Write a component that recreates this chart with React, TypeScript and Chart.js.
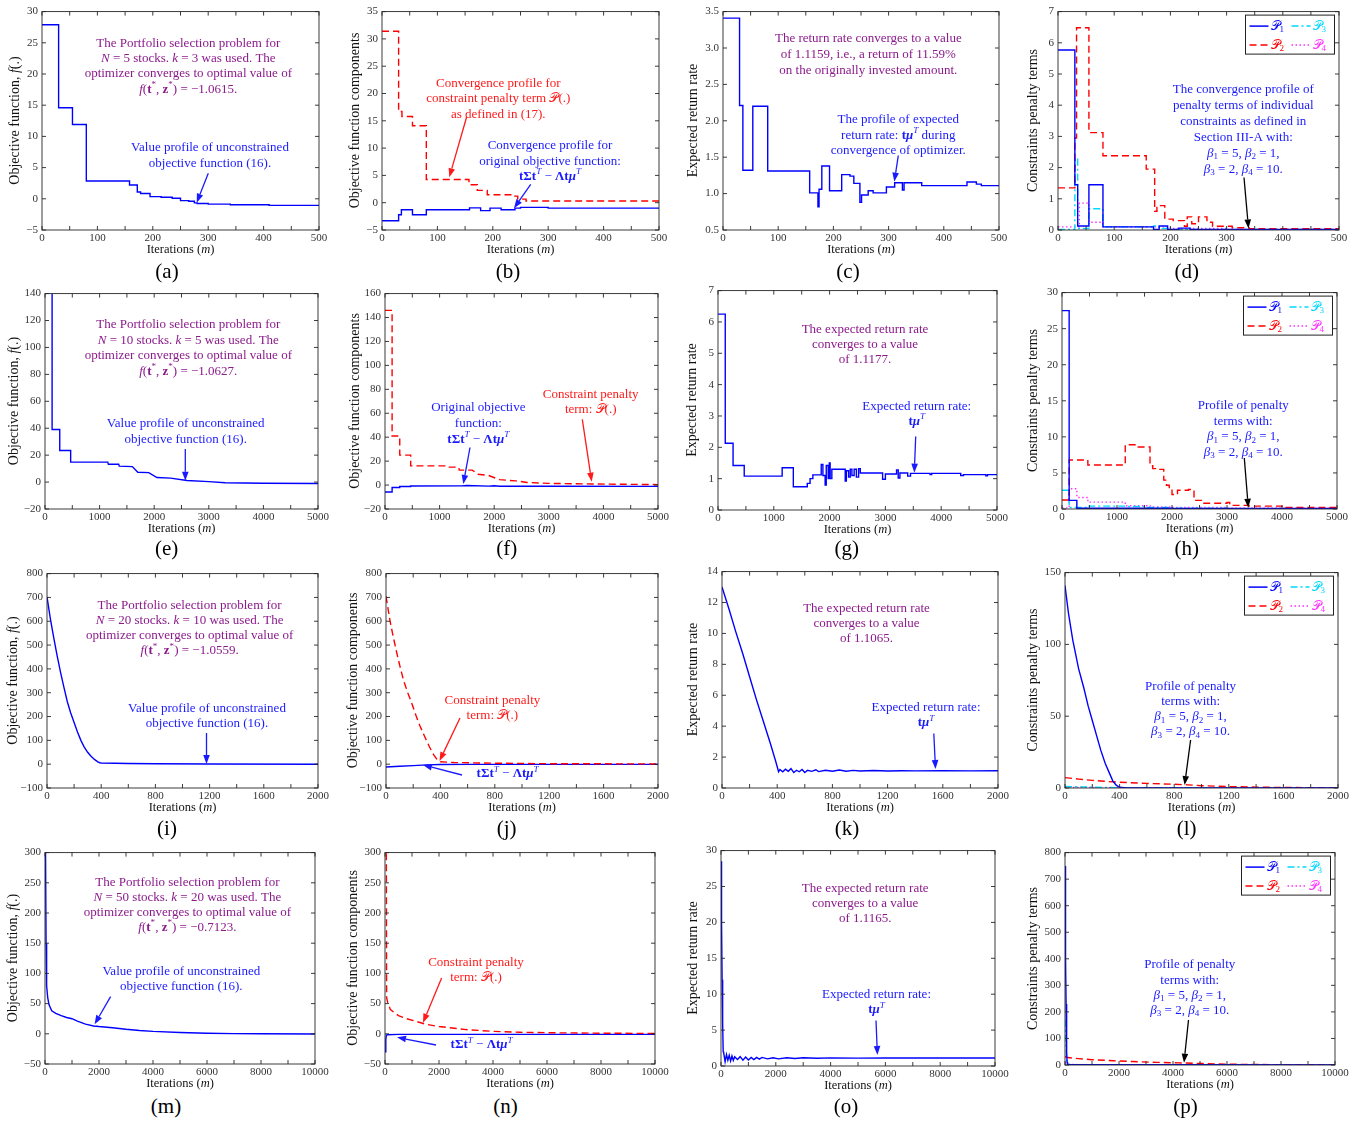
import React, { useEffect, useRef } from "react";
import { Chart, registerables } from "chart.js";

Chart.register(...registerables);

const FONT = '"Liberation Serif", "DejaVu Serif", "Times New Roman", serif';
const Y_W = 50;
const PAD_T = 10;
const X_H = 30;
const ANN_SIZE = 13;
const YT_SIZE = 14;
const XT_SIZE = 12.5;
const TICK_SIZE = 11;

const BLUE = "#0000ff";
const RED = "#ff0000";
const CYAN = "#00d8ff";
const MAGENTA = "#ff30ff";
const PURPLE = "#8b1a8b";
const TXT_BLUE = "#1a1aff";
const TXT_RED = "#ff1a1a";
const BLACK = "#000000";
const SCRIPT_P = "𝒫";

// ---------------- data ----------------
// (a) N = 5
const aIter = [0, 30, 55, 80, 158, 172, 178, 195, 215, 235, 250, 265, 275, 280, 300, 340, 410, 500];
const aObjective = [27.9, 14.6, 11.9, 2.85, 2.2, 1.1, 0.85, 0.35, 0.25, 0.1, -0.3, -0.4, -0.65, -0.75, -0.85, -0.95, -1.05, -1.1];
// (b)
const bPenIter = [0, 30, 36, 55, 80, 157, 172, 190, 237, 245, 260, 500];
const bPenalty = [31.4, 16.7, 15.8, 14.1, 4.25, 3.3, 2.25, 1.45, 1.2, 0.65, 0.3, 0.1];
const bObjIter = [0, 30, 35, 55, 80, 158, 178, 195, 215, 240, 250, 300, 500];
const bObjOrig = [-3.3, -2.2, -1.3, -2.2, -1.3, -0.95, -1.45, -1.0, -1.3, -1.0, -0.85, -1.0, -1.05];
// (c)
const cIter = [0, 30, 36, 54, 81, 157, 172, 174, 179, 193, 215, 230, 237, 248, 251, 263, 272, 296, 311, 325, 328, 360, 442, 459, 468, 500];
const cReturn = [3.41, 2.21, 1.32, 2.2, 1.31, 1.01, 0.82, 1.06, 1.38, 1.04, 1.26, 1.24, 1.14, 0.88, 0.98, 1.04, 1.01, 1.09, 1.15, 1.05, 1.15, 1.11, 1.16, 1.13, 1.11, 1.11];
// (d)
const dP1Iter = [0, 30, 35, 55, 80, 170, 180, 195, 215, 235, 500];
const dP1 = [5.77, 1.45, 0.13, 1.45, 0.1, 0.02, 0.13, 0.02, 0.06, 0.02, 0.02];
const dP2Iter = [0, 30, 33, 55, 80, 157, 172, 176, 190, 205, 225, 230, 238, 250, 265, 275, 310, 340, 500];
const dP2 = [1.35, 2.95, 6.48, 3.12, 2.38, 1.95, 0.6, 0.78, 0.35, 0.3, 0.12, 0.42, 0.2, 0.42, 0.25, 0.12, 0.07, 0.04, 0.02];
const dP3Iter = [0, 30, 35, 55, 80, 170, 180, 200, 500];
const dP3 = [0.02, 2.28, 0.05, 0.68, 0.1, 0.13, 0.05, 0.02, 0.01];
const dP4Iter = [0, 38, 55, 80, 160, 200, 300, 500];
const dP4 = [0.1, 0.86, 0.25, 0.1, 0.1, 0.05, 0.02, 0.01];
// (e) N = 10
const eIter = [0, 130, 130, 270, 270, 470, 470, 1150, 1160, 1350, 1360, 1600, 1700, 1900, 2050, 2300, 2600, 3000, 3300, 4000, 5000];
const eObjective = [150, 150, 39, 39, 23.5, 23.5, 14.8, 14.8, 13.2, 13.2, 11.8, 11.5, 7.3, 7, 3.4, 2.9, 1.2, 0.3, -0.5, -0.9, -1.1];
// (f)
const fPenIter = [0, 130, 130, 270, 270, 470, 470, 1150, 1160, 1350, 1360, 1600, 1700, 1900, 2100, 2400, 2600, 3000, 3800, 5000];
const fPenalty = [146, 146, 41, 41, 25, 25, 16, 16, 15, 15, 12.5, 12.5, 9, 8, 4.5, 3.5, 2.2, 1.4, 0.9, 0.4];
const fObjIter = [0, 130, 130, 270, 270, 470, 470, 1400, 1500, 1900, 2000, 2100, 3000, 5000];
const fObjOrig = [-5.8, -5.8, -2, -2, -1.2, -1.2, -0.8, -0.7, -0.4, -0.9, -0.6, -1, -1, -1.1];
// (g)
const gIter = [0, 130, 270, 470, 1150, 1350, 1600, 1650, 1700, 1850, 1880, 1920, 1940, 1975, 1995, 2010, 2040, 2100, 2280, 2300, 2340, 2370, 2400, 2440, 2480, 2520, 2550, 2950, 3000, 3200, 3230, 3260, 3400, 3450, 3800, 3830, 4350, 4400, 4800, 4830, 5000];
const gReturn = [6.25, 2.13, 1.42, 1.08, 1.35, 0.74, 0.85, 1.0, 1.12, 1.45, 1.1, 0.8, 1.42, 1.0, 1.5, 1.0, 1.3, 1.3, 0.92, 1.25, 1.05, 1.3, 1.1, 1.3, 1.05, 1.32, 1.18, 0.98, 1.15, 1.28, 1.02, 1.18, 1.08, 1.17, 1.13, 1.17, 1.1, 1.13, 1.09, 1.13, 1.13];
// (h)
const hP1Iter = [0, 130, 270, 2000, 5000];
const hP1 = [27.5, 1.2, 0.1, 0.08, 0.02];
const hP2Iter = [0, 130, 470, 1150, 1350, 1600, 1650, 1700, 1850, 1900, 1950, 2000, 2100, 2300, 2400, 2550, 3000, 3050, 3400, 4000, 5000];
const hP2 = [1.25, 6.8, 6.1, 8.9, 8.6, 6.0, 5.6, 5.5, 4.0, 3.3, 2.8, 2.0, 2.6, 2.7, 1.2, 0.8, 0.9, 0.5, 0.4, 0.2, 0.05];
const hP3Iter = [0, 130, 470, 1150, 1500, 2000, 3000, 5000];
const hP3 = [2.6, 0.2, 0.4, 0.35, 0.2, 0.1, 0.05, 0.02];
const hP4Iter = [0, 130, 270, 470, 1150, 1600, 2000, 3000, 5000];
const hP4 = [0.15, 2.8, 1.6, 0.95, 0.45, 0.3, 0.2, 0.1, 0.05];
// (i) N = 20
const iIter = [0, 25, 50, 75, 100, 125, 150, 175, 200, 225, 250, 275, 300, 325, 350, 375, 390, 400, 500, 600, 800, 1200, 2000];
const iObjective = [702, 610, 530, 455, 385, 322, 262, 215, 175, 135, 100, 72, 50, 33, 20, 10, 6, 5, 4, 3, 1.5, 0.5, 0];
// (j)
const jPenIter = [0, 30, 55, 80, 105, 130, 160, 190, 220, 250, 285, 320, 350, 380, 400, 500, 800, 1200, 2000];
const jPenalty = [705, 600, 530, 465, 405, 350, 300, 255, 205, 160, 115, 72, 40, 16, 10, 7, 4, 2, 1];
const jObjIter = [0, 100, 200, 300, 400, 600, 2000];
const jObjOrig = [-12, -9, -6, -3, -1.5, -1, -1];
// (k)
const kIter = [0, 50, 100, 150, 200, 250, 300, 350, 390, 410, 420, 440, 460, 480, 500, 520, 540, 560, 580, 600, 620, 650, 680, 700, 750, 800, 850, 900, 950, 1000, 1100, 1200, 1300, 1400, 1600, 1800, 2000];
const kReturn = [13, 11.6, 10.1, 8.7, 7.2, 5.7, 4.3, 2.9, 1.7, 1.05, 1.2, 1.05, 1.22, 1.08, 1.25, 1.0, 1.15, 1.05, 1.2, 1.0, 1.15, 1.08, 1.18, 1.06, 1.15, 1.08, 1.16, 1.08, 1.14, 1.1, 1.13, 1.1, 1.12, 1.11, 1.12, 1.11, 1.12];
// (l)
const lP1Iter = [0, 25, 57, 100, 137, 170, 200, 230, 263, 295, 327, 350, 375, 400, 450, 2000];
const lP1 = [141, 122, 103, 83, 70, 57, 47, 37, 26, 17, 10, 5, 2, 0.5, 0.1, 0];
const lP2Iter = [0, 100, 200, 300, 400, 600, 800, 900, 1000, 1200, 1400, 1600, 2000];
const lP2 = [7.2, 6.2, 5.3, 4.6, 4.0, 3.2, 2.6, 2.2, 1.6, 1.0, 0.6, 0.35, 0.15];
const lP3Iter = [0, 100, 200, 300, 400, 2000];
const lP3 = [1.0, 0.8, 0.6, 0.4, 0.2, 0];
const lP4Iter = [0, 200, 400, 1000, 2000];
const lP4 = [0.4, 0.3, 0.2, 0.1, 0];
// (m) N = 50
const mIter = [0, 20, 40, 60, 100, 150, 250, 400, 600, 800, 1000, 1200, 1500, 1800, 2000, 2500, 3000, 3500, 4000, 5000, 6000, 7000, 8000, 10000];
const mObjective = [800, 300, 150, 80, 60, 48, 38, 34, 30, 27, 25, 21, 16, 13, 12, 10, 7.5, 5.5, 4, 2.2, 1, 0.3, 0, -0.3];
// (n)
const nPenIter = [0, 45, 60, 100, 200, 500, 800, 1200, 1500, 2000, 3000, 4000, 5000, 6000, 8000, 10000];
const nPenalty = [900, 400, 60, 52, 40, 30, 25, 20, 16, 12, 7, 4, 2.5, 1.8, 1, 0.6];
const nObjIter = [0, 30, 50, 100, 500, 10000];
const nObjOrig = [-30, -10, -2, -1.5, -1, -1];
// (o)
const oIter = [0, 20, 40, 60, 80, 100, 150, 200, 250, 300, 350, 400, 450, 500, 600, 700, 800, 900, 1000, 1100, 1200, 1300, 1400, 1500, 1700, 1900, 2100, 2400, 2700, 3000, 3500, 4000, 5000, 6000, 8000, 10000];
const oReturn = [28.5, 20, 12, 6, 2, 1.8, 0.6, 1.6, 0.8, 1.5, 0.7, 1.4, 0.8, 1.3, 0.9, 1.3, 0.8, 1.25, 0.85, 1.2, 0.9, 1.2, 0.95, 1.2, 1.0, 1.15, 1.0, 1.15, 1.05, 1.15, 1.08, 1.13, 1.1, 1.12, 1.11, 1.12];
// (p)
const pP1Iter = [0, 20, 40, 60, 80, 100, 10000];
const pP1 = [750, 400, 230, 50, 10, 2, 0];
const pP2Iter = [0, 50, 100, 500, 1000, 1800, 2500, 3400, 4200, 5000, 6000, 8000, 10000];
const pP2 = [30, 30, 28, 24, 20, 16, 13, 10, 8, 6, 3, 1, 0.5];
const pP3Iter = [0, 30, 60, 100, 200, 10000];
const pP3 = [170, 100, 20, 5, 1, 0];
const pP4Iter = [0, 50, 100, 1000, 10000];
const pP4 = [10, 5, 2, 1, 0];

const legendLabels = [SCRIPT_P + "_{1}", SCRIPT_P + "_{2}", SCRIPT_P + "_{3}", SCRIPT_P + "_{4}"];

// ---------------- styles / layout ----------------
const STY: any = {
  blue: { color: BLUE, dash: [] },
  red: { color: RED, dash: [7, 4] },
  cyan: { color: CYAN, dash: [7, 3, 2, 3] },
  magenta: { color: MAGENTA, dash: [1.5, 2.5] },
};
const S = (xs: number[], ys: number[], st: any, stepped: boolean) => ({ xs, ys, color: st.color, dash: st.dash, stepped });

const X500 = [0, 500, 100];
const X5000 = [0, 5000, 1000];
const X2000 = [0, 2000, 400];
const X10000 = [0, 10000, 2000];
const YT_OBJ = "Objective function, ~f~(.)";
const YT_COMP = "Objective function components";
const YT_RET = "Expected return rate";
const YT_PEN = "Constraints penalty terms";
const XT = "Iterations (~m~)";
const portfolio = (n: number, k: number, v: string) => [
  "The Portfolio selection problem for",
  `~N~ = ${n} stocks. ~k~ = ${k} was used. The`,
  "optimizer converges to optimal value of",
  `~f~(#t#^{*}, #z#^{*}) = ${v}.`,
];
const VALUE_PROFILE = ["Value profile of unconstrained", "objective function (16)."];
const FORMULA = "#tΣt#^{~T~} − #Λt~μ~#^{~T~}";
const PENALTY_TERM = ["Constraint penalty", "term: " + SCRIPT_P + "(.)"];
const EXP_RATE = ["Expected return rate:", "#t~μ~#^{~T~}"];
const BETAS = ["~β~_{1} = 5, ~β~_{2} = 1,", "~β~_{3} = 2, ~β~_{4} = 10."];
const PROFILE_PEN = ["Profile of penalty", "terms with:", ...BETAS];
const expected = (v: string) => ["The expected return rate", "converges to a value", `of ${v}.`];
const T = (cx: number, y0: number, step: number, color: string, lines: string[]) => ({ cx, y0, step, color, lines });
const A = (x1: number, y1: number, x2: number, y2: number, color: string) => ({ x1, y1, x2, y2, color });

const PANELS: any[] = [
  {
    rect: [42, 11, 319, 230], x: X500, y: [-5, 30, 5], yTitle: YT_OBJ, yTitleX: 15,
    series: [S(aIter, aObjective, STY.blue, true)],
    texts: [T(188.3, 43.3, 15.3, PURPLE, portfolio(5, 3, "−1.0615")), T(210, 147.5, 15.8, TXT_BLUE, VALUE_PROFILE)],
    arrows: [A(208.3, 173.3, 196.7, 202.7, TXT_BLUE)], caption: "(a)", capX: 167, capY: 271,
  },
  {
    rect: [382, 11, 659, 230], x: X500, y: [-5, 35, 5], yTitle: YT_COMP, yTitleX: 355,
    series: [S(bPenIter, bPenalty, STY.red, true), S(bObjIter, bObjOrig, STY.blue, true)],
    texts: [
      T(498.3, 83.3, 15.5, TXT_RED, ["Convergence profile for", "constraint penalty term " + SCRIPT_P + "(.)", "as defined in (17)."]),
      T(550, 146, 15.3, TXT_BLUE, ["Convergence profile for", "original objective function:", FORMULA]),
    ],
    arrows: [A(466.7, 116.7, 449.3, 177.3, TXT_RED), A(530.7, 184.3, 514, 208.3, TXT_BLUE)],
    caption: "(b)", capX: 508, capY: 271,
  },
  {
    rect: [723, 11, 999, 230], x: X500, y: [0.5, 3.5, 0.5], yDec: 1, yTitle: YT_RET, yTitleX: 693.3,
    series: [S(cIter, cReturn, STY.blue, true)],
    texts: [
      T(868.3, 38.3, 15.9, PURPLE, ["The return rate converges to a value", "of 1.1159, i.e., a return of 11.59%", "on the originally invested amount."]),
      T(898.3, 120, 15.4, TXT_BLUE, ["The profile of expected", "return rate: #t~μ~#^{~T~} during", "convergence of optimizer."]),
    ],
    arrows: [A(898.3, 155.5, 894.3, 181.7, TXT_BLUE)], caption: "(c)", capX: 848, capY: 271,
  },
  {
    rect: [1058, 11, 1339, 230], x: X500, y: [0, 7, 1], yTitle: YT_PEN, yTitleX: 1033.3, legend: true,
    series: [S(dP1Iter, dP1, STY.blue, true), S(dP2Iter, dP2, STY.red, true), S(dP3Iter, dP3, STY.cyan, true), S(dP4Iter, dP4, STY.magenta, true)],
    texts: [T(1243.3, 90, 15.9, TXT_BLUE, ["The convergence profile of", "penalty terms of individual", "constraints as defined in", "Section III-A with:", ...BETAS])],
    arrows: [A(1244, 177.5, 1248.5, 228.5, BLACK)], caption: "(d)", capX: 1186.7, capY: 271,
  },
  {
    rect: [45, 293, 318, 509], x: X5000, y: [-20, 140, 20], yTitle: YT_OBJ, yTitleX: 14,
    series: [S(eIter, eObjective, STY.blue, false)],
    texts: [T(188.3, 325, 15.5, PURPLE, portfolio(10, 5, "−1.0627")), T(185.7, 424, 16, TXT_BLUE, VALUE_PROFILE)],
    arrows: [A(185.3, 449, 185.3, 480.7, TXT_BLUE)], caption: "(e)", capX: 166.7, capY: 548,
  },
  {
    rect: [385, 293, 658, 509], x: X5000, y: [-20, 160, 20], yTitle: YT_COMP, yTitleX: 355,
    series: [S(fPenIter, fPenalty, STY.red, false), S(fObjIter, fObjOrig, STY.blue, false)],
    texts: [T(478.3, 407.3, 16, TXT_BLUE, ["Original objective", "function:", FORMULA]), T(590.7, 395, 15, TXT_RED, PENALTY_TERM)],
    arrows: [A(470, 447.5, 463.3, 484, TXT_BLUE), A(582.3, 419.3, 591.7, 481.7, TXT_RED)],
    caption: "(f)", capX: 506.7, capY: 548,
  },
  {
    rect: [718, 290, 997, 510], x: X5000, y: [0, 7, 1], yTitle: YT_RET, yTitleX: 692.7,
    series: [S(gIter, gReturn, STY.blue, true)],
    texts: [T(865, 330, 15, PURPLE, expected("1.1177")), T(916.7, 406.7, 15, TXT_BLUE, EXP_RATE)],
    arrows: [A(915.7, 436.5, 914.3, 472.7, TXT_BLUE)], caption: "(g)", capX: 846.7, capY: 548,
  },
  {
    rect: [1062, 292, 1337, 509], x: X5000, y: [0, 30, 5], yTitle: YT_PEN, yTitleX: 1033.3, legend: true,
    series: [S(hP1Iter, hP1, STY.blue, true), S(hP2Iter, hP2, STY.red, true), S(hP3Iter, hP3, STY.cyan, true), S(hP4Iter, hP4, STY.magenta, true)],
    texts: [T(1243.3, 406, 15.4, TXT_BLUE, PROFILE_PEN)],
    arrows: [A(1244.3, 458, 1248.3, 507.7, BLACK)], caption: "(h)", capX: 1186.7, capY: 548,
  },
  {
    rect: [47, 573, 318, 788], x: X2000, y: [-100, 800, 100], yTitle: YT_OBJ, yTitleX: 13,
    series: [S(iIter, iObjective, STY.blue, false)],
    texts: [T(189.6, 605.7, 15.1, PURPLE, portfolio(20, 10, "−1.0559")), T(207, 709, 15, TXT_BLUE, VALUE_PROFILE)],
    arrows: [A(206.5, 733, 206.5, 764, TXT_BLUE)], caption: "(i)", capX: 167, capY: 828,
  },
  {
    rect: [386, 573, 658, 788], x: X2000, y: [-100, 800, 100], yTitle: YT_COMP, yTitleX: 353.6,
    series: [S(jPenIter, jPenalty, STY.red, false), S(jObjIter, jObjOrig, STY.blue, false)],
    texts: [T(492.4, 701, 15, TXT_RED, PENALTY_TERM), T(507.6, 774, 15, TXT_BLUE, [FORMULA])],
    arrows: [A(460, 718, 439.5, 761, TXT_RED), A(462, 775, 423, 765, TXT_BLUE)],
    caption: "(j)", capX: 506.7, capY: 828,
  },
  {
    rect: [722, 571, 998, 788], x: X2000, y: [0, 14, 2], yTitle: YT_RET, yTitleX: 693,
    series: [S(kIter, kReturn, STY.blue, false)],
    texts: [T(866.5, 609, 15, PURPLE, expected("1.1065")), T(926, 708, 15, TXT_BLUE, EXP_RATE)],
    arrows: [A(933.8, 733.5, 935.5, 769, TXT_BLUE)], caption: "(k)", capX: 847, capY: 828,
  },
  {
    rect: [1065, 572, 1338, 788], x: X2000, y: [0, 150, 50], yTitle: YT_PEN, yTitleX: 1033.6, legend: true,
    series: [S(lP1Iter, lP1, STY.blue, false), S(lP2Iter, lP2, STY.red, false), S(lP3Iter, lP3, STY.cyan, false), S(lP4Iter, lP4, STY.magenta, false)],
    texts: [T(1190.6, 687, 15, TXT_BLUE, PROFILE_PEN)],
    arrows: [A(1190.6, 740, 1184.6, 785, BLACK)], caption: "(l)", capX: 1186.7, capY: 828,
  },
  {
    rect: [45, 852, 315, 1064], x: X10000, y: [-50, 300, 50], yTitle: YT_OBJ, yTitleX: 13, padR: 18,
    series: [S(mIter, mObjective, STY.blue, false)],
    texts: [T(187.4, 882.7, 15, PURPLE, portfolio(50, 20, "−0.7123")), T(181.3, 971.7, 15, TXT_BLUE, VALUE_PROFILE)],
    arrows: [A(110.6, 996.7, 94.6, 1024.3, TXT_BLUE)], caption: "(m)", capX: 166, capY: 1106,
  },
  {
    rect: [385, 852, 655, 1064], x: X10000, y: [-50, 300, 50], yTitle: YT_COMP, yTitleX: 353.6, padR: 18,
    series: [S(nPenIter, nPenalty, STY.red, false), S(nObjIter, nObjOrig, STY.blue, false)],
    texts: [T(476, 962.7, 15, TXT_RED, PENALTY_TERM), T(481.6, 1045, 15, TXT_BLUE, [FORMULA])],
    arrows: [A(441.6, 978, 423, 1022.7, TXT_RED), A(436, 1045, 397, 1037.3, TXT_BLUE)],
    caption: "(n)", capX: 505.4, capY: 1106,
  },
  {
    rect: [721, 850, 995, 1066], x: X10000, y: [0, 30, 5], yTitle: YT_RET, yTitleX: 693, padR: 18,
    series: [S(oIter, oReturn, STY.blue, false)],
    texts: [T(865.2, 888.3, 15, PURPLE, expected("1.1165")), T(876.5, 995, 15, TXT_BLUE, EXP_RATE)],
    arrows: [A(876, 1020.5, 877.4, 1055, TXT_BLUE)], caption: "(o)", capX: 846, capY: 1106,
  },
  {
    rect: [1065, 852, 1335, 1065], x: X10000, y: [0, 800, 100], yTitle: YT_PEN, yTitleX: 1033.6, legend: true, padR: 18,
    series: [S(pP1Iter, pP1, STY.blue, false), S(pP2Iter, pP2, STY.red, false), S(pP3Iter, pP3, STY.cyan, false), S(pP4Iter, pP4, STY.magenta, false)],
    texts: [T(1189.8, 965, 15.2, TXT_BLUE, PROFILE_PEN)],
    arrows: [A(1188.5, 1020, 1184, 1062.7, BLACK)], caption: "(p)", capX: 1185.4, capY: 1106,
  },
];

// ---------------- rich text ----------------
type Run = { t: string; b: boolean; i: boolean; s: number };
function parseRich(src: string): Run[] {
  const runs: Run[] = [];
  let b = false;
  let it = false;
  let k = 0;
  const push = (t: string, s: number) => {
    const last = runs[runs.length - 1];
    if (last && last.b === b && last.i === it && last.s === s) last.t += t;
    else runs.push({ t, b, i: it, s });
  };
  const parseInto = (lvl: number, stop: string | null) => {
    while (k < src.length) {
      const c = src[k];
      if (stop && c === stop) { k++; return; }
      if (c === "~") { it = !it; k++; continue; }
      if (c === "#") { b = !b; k++; continue; }
      if ((c === "^" || c === "_") && src[k + 1] === "{") {
        k += 2;
        parseInto(c === "^" ? 1 : -1, "}");
        continue;
      }
      push(c, lvl);
      k++;
    }
  };
  parseInto(0, null);
  return runs;
}

function drawRich(ctx: CanvasRenderingContext2D, src: string, x: number, y: number, size: number, color: string, align = "center") {
  const runs = parseRich(src);
  const fontOf = (r: Run) => `${r.i ? "italic " : ""}${r.b ? "bold " : ""}${r.s ? size * 0.7 : size}px ${FONT}`;
  const widths = runs.map((r) => { ctx.font = fontOf(r); return ctx.measureText(r.t).width; });
  const total = widths.reduce((a, w) => a + w, 0);
  let cx = align === "center" ? x - total / 2 : x;
  ctx.textAlign = "left";
  ctx.textBaseline = "middle";
  ctx.fillStyle = color;
  runs.forEach((r, idx) => {
    ctx.font = fontOf(r);
    const dy = r.s === 1 ? -size * 0.36 : r.s === -1 ? size * 0.26 : 0;
    ctx.fillText(r.t, cx, y + dy);
    cx += widths[idx];
  });
}

function drawArrow(ctx: CanvasRenderingContext2D, x1: number, y1: number, x2: number, y2: number, color: string) {
  const ang = Math.atan2(y2 - y1, x2 - x1);
  const hl = 9;
  const hw = 3.3;
  const bx = x2 - hl * Math.cos(ang);
  const by = y2 - hl * Math.sin(ang);
  ctx.setLineDash([]);
  ctx.strokeStyle = color;
  ctx.fillStyle = color;
  ctx.lineWidth = 1.3;
  ctx.beginPath();
  ctx.moveTo(x1, y1);
  ctx.lineTo(bx, by);
  ctx.stroke();
  ctx.beginPath();
  ctx.moveTo(x2, y2);
  ctx.lineTo(bx + hw * Math.sin(ang), by - hw * Math.cos(ang));
  ctx.lineTo(bx - hw * Math.sin(ang), by + hw * Math.cos(ang));
  ctx.closePath();
  ctx.fill();
}

const decorPlugin = {
  id: "decor",
  afterDraw(chart: any) {
    const p = chart.options.plugins.decor;
    if (!p) return;
    const ctx: CanvasRenderingContext2D = chart.ctx;
    const ca = chart.chartArea;
    const xs = chart.scales.x;
    const ys = chart.scales.y;
    const [L, Tp, R, B] = p.rect;
    const ox = L - Y_W;
    const oy = Tp - PAD_T;
    ctx.save();
    // frame
    ctx.setLineDash([]);
    ctx.strokeStyle = "#262626";
    ctx.lineWidth = 0.9;
    ctx.strokeRect(ca.left, ca.top, ca.right - ca.left, ca.bottom - ca.top);
    // inward ticks
    ctx.beginPath();
    const [x0, x1, xst] = p.x;
    const nx = Math.round((x1 - x0) / (xst / 2));
    for (let k = 0; k <= nx; k++) {
      const px = xs.getPixelForValue(x0 + (k * xst) / 2);
      ctx.moveTo(px, ca.bottom); ctx.lineTo(px, ca.bottom - 4);
      ctx.moveTo(px, ca.top); ctx.lineTo(px, ca.top + 4);
    }
    const [y0, y1, yst] = p.y;
    const ny = Math.round((y1 - y0) / yst);
    for (let k = 0; k <= ny; k++) {
      const py = ys.getPixelForValue(y0 + k * yst);
      ctx.moveTo(ca.left, py); ctx.lineTo(ca.left + 4, py);
      ctx.moveTo(ca.right, py); ctx.lineTo(ca.right - 4, py);
    }
    ctx.stroke();
    // axis titles
    drawRich(ctx, XT, (L + R) / 2 - ox, B + 19.5 - oy, XT_SIZE, "#111");
    ctx.save();
    ctx.translate(p.yTitleX - ox, (Tp + B) / 2 - oy);
    ctx.rotate(-Math.PI / 2);
    drawRich(ctx, p.yTitle, 0, 0, YT_SIZE, "#111");
    ctx.restore();
    // legend
    if (p.legend) {
      const bw = 89;
      const bh = 39;
      const bx = ca.right - 4.5 - bw;
      const by = ca.top + 3.5;
      ctx.fillStyle = "#fff";
      ctx.fillRect(bx, by, bw, bh);
      ctx.strokeStyle = "#222";
      ctx.lineWidth = 1;
      ctx.setLineDash([]);
      ctx.strokeRect(bx, by, bw, bh);
      const slots = [[4, 11], [4, 30], [46, 11], [46, 30]]; // P1, P2, P3, P4
      p.series.forEach((s: any, idx: number) => {
        const [cx, ry] = slots[idx];
        ctx.strokeStyle = s.color;
        ctx.lineWidth = 1.5;
        ctx.setLineDash(s.dash);
        ctx.beginPath();
        ctx.moveTo(bx + cx, by + ry);
        ctx.lineTo(bx + cx + 19, by + ry);
        ctx.stroke();
        ctx.setLineDash([]);
        drawRich(ctx, legendLabels[idx], bx + cx + 21, by + ry, 13, s.color, "left");
      });
    }
    // annotations
    p.texts.forEach((tb: any) => {
      tb.lines.forEach((ln: string, li: number) => {
        drawRich(ctx, ln, tb.cx - ox, tb.y0 + li * tb.step - oy, ANN_SIZE, tb.color);
      });
    });
    p.arrows.forEach((a: any) => drawArrow(ctx, a.x1 - ox, a.y1 - oy, a.x2 - ox, a.y2 - oy, a.color));
    ctx.restore();
  },
};

const fmt = (v: number, dec: number) => {
  const s = Math.abs(v).toFixed(dec);
  return v < 0 ? "−" + s : s;
};

function PanelChart({ p }: { p: any }) {
  const ref = useRef<HTMLCanvasElement>(null);
  const [L, Tp, R, B] = p.rect;
  const padR = p.padR ?? 14;
  const w = R - L + Y_W + padR;
  const h = B - Tp + PAD_T + X_H;
  useEffect(() => {
    const tickFont = { family: FONT, size: TICK_SIZE };
    const chart = new Chart(ref.current as HTMLCanvasElement, {
      type: "line",
      data: {
        datasets: p.series.map((s: any) => ({
          data: s.xs.map((x: number, i: number) => ({ x, y: s.ys[i] })),
          borderColor: s.color,
          borderWidth: 1.4,
          borderDash: s.dash,
          stepped: s.stepped ? "before" : false,
          pointRadius: 0,
          fill: false,
          tension: 0,
        })),
      },
      options: {
        animation: false,
        responsive: false,
        maintainAspectRatio: false,
        events: [],
        layout: { padding: { left: 0, top: PAD_T, right: padR, bottom: 0 } },
        plugins: { legend: { display: false }, tooltip: { enabled: false }, decor: p } as any,
        scales: {
          x: {
            type: "linear",
            min: p.x[0],
            max: p.x[1],
            ticks: { stepSize: p.x[2], font: tickFont, color: "#333", padding: 2, maxRotation: 0, autoSkip: false, callback: (v: any) => fmt(Number(v), 0) },
            grid: { display: false, drawTicks: false },
            border: { display: false },
            afterFit: (s: any) => { s.height = X_H; },
          },
          y: {
            type: "linear",
            min: p.y[0],
            max: p.y[1],
            ticks: { stepSize: p.y[2], font: tickFont, color: "#333", padding: 4, autoSkip: false, callback: (v: any) => fmt(Number(v), p.yDec ?? 0) },
            grid: { display: false, drawTicks: false },
            border: { display: false },
            afterFit: (s: any) => { s.width = Y_W; },
          },
        },
      },
      plugins: [decorPlugin],
    } as any);
    return () => chart.destroy();
  }, []);
  return (
    <canvas
      ref={ref}
      width={w}
      height={h}
      style={{ position: "absolute", left: L - Y_W, top: Tp - PAD_T, width: w, height: h }}
    />
  );
}

export default function App() {
  return (
    <div>
      {PANELS.map((p, i) => (
        <PanelChart key={i} p={p} />
      ))}
      {PANELS.map((p, i) => (
        <div
          key={"cap" + i}
          style={{
            position: "absolute",
            left: p.capX,
            top: p.capY,
            transform: "translate(-50%, -50%)",
            fontFamily: FONT,
            fontSize: 21,
            lineHeight: "24px",
            color: "#000",
            whiteSpace: "nowrap",
          }}
        >
          {p.caption}
        </div>
      ))}
    </div>
  );
}
